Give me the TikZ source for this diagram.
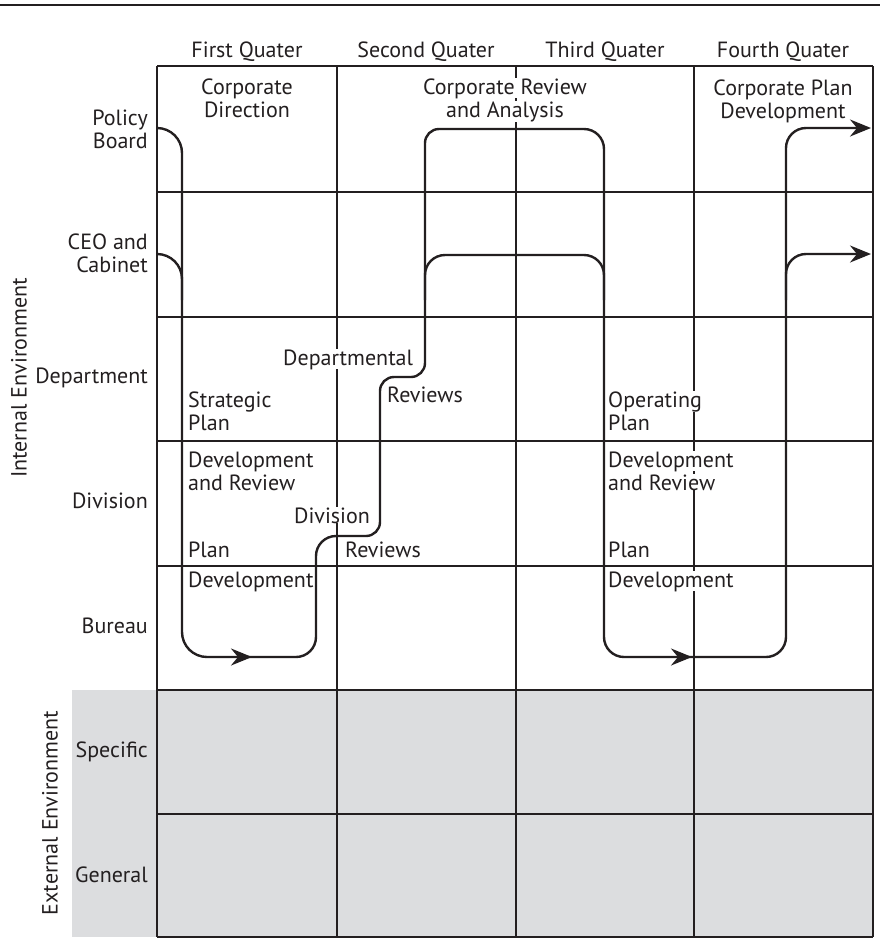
\documentclass[tikz,border=0pt]{standalone}
\usepackage{fontspec}
\setmainfont{PT Sans}
\usetikzlibrary{arrows.meta}
\definecolor{ink}{HTML}{231F20}
\definecolor{bandgray}{HTML}{DCDDDF}
\tikzset{
  txt/.style={font=\fontsize{22}{24}\selectfont, text=ink, inner sep=0pt},
  lane/.style={txt, anchor=base east},
  head/.style={txt, anchor=base},
  cell/.style={txt, anchor=base west, fill=white},
  ctr/.style={txt, anchor=base, fill=white},
  gridline/.style={draw=ink, line width=1.3pt},
  flow/.style={draw=ink, line width=2.4pt},
  tip/.style={-{Stealth[length=21pt,width=17pt,inset=7pt]}}
}
\begin{document}
\begin{tikzpicture}[x=1pt,y=-1pt]
\useasboundingbox (0,0) rectangle (880,938);

% top rule
\draw[ink, line width=2.7pt] (0,5) -- (880,5);

% shaded external environment band
\fill[bandgray] (72,690) rectangle (873,937);

% grid
\foreach \yy in {66,192,317,441,566,690,814,937}
  \draw[gridline] (157,\yy) -- (873,\yy);
\foreach \xx in {157,337,516,694,873}
  \draw[gridline] (\xx,66) -- (\xx,937);

% quarter headings
\node[head] (q1) at (247,57) {First Quater};
\node[head] (q2) at (426,57) {Second Quater};
\node[head] (q3) at (605,57) {Third Quater};
\node[head] (q4) at (783,57) {Fourth Quater};

% lane labels
\node[lane] (pb1) at (148,125) {Policy};
\node[lane] (pb2) at (148,148) {Board};
\node[lane] (ceo1) at (148,249) {CEO and};
\node[lane] (ceo2) at (148,272) {Cabinet};
\node[lane] (dep) at (148,383) {Department};
\node[lane] (div) at (148,508) {Division};
\node[lane] (bur) at (148,633) {Bureau};
\node[lane] (spec) at (148,757) {Specific};
\node[lane] (gen) at (148,882) {General};

\node[txt, rotate=90] (intenv) at (19,378) {Internal Environment};
\node[txt, rotate=90] (extenv) at (50,813) {External Environment};

% activity captions
\node[ctr] (cd1) at (247,94) {Corporate};
\node[ctr] (cd2) at (247,117) {Direction};
\node[ctr] (cr1) at (505,94) {Corporate Review};
\node[ctr] (cr2) at (505,117) {and Analysis};
\node[ctr] (cp1) at (783,95) {Corporate Plan};
\node[ctr] (cp2) at (783,118) {Development};

\node[cell] (sp1) at (188,407) {Strategic};
\node[cell] (sp2) at (188,430) {Plan};
\node[cell] (sp3) at (188,467) {Development};
\node[cell] (sp4) at (188,490) {and Review};
\node[cell] (pd1) at (188,557) {Plan};
\node[cell] (pd2) at (188,587) {Development};

\node[cell] (dr1) at (283,365) {Departmental};
\node[cell] (dr2) at (387,402) {Reviews};
\node[cell] (vr1) at (294,523) {Division};
\node[cell] (vr2) at (345,557) {Reviews};

\node[cell] (op1) at (608,407) {Operating};
\node[cell] (op2) at (608,430) {Plan};
\node[cell] (op3) at (608,467) {Development};
\node[cell] (op4) at (608,490) {and Review};
\node[cell] (pd3) at (608,557) {Plan};
\node[cell] (pd4) at (608,587) {Development};

% main planning cycle
\draw[flow, tip] (157,128) [rounded corners=25pt] -- (182,128) -- (182,657)
  [rounded corners=20pt] -- (316,657) -- (316,536)
  [rounded corners=14pt] -- (380,536) -- (380,377) -- (425,377) -- (425,129)
  [rounded corners=20pt] -- (604,129) -- (604,657) -- (786,657) -- (786,128) -- (871,128);

% CEO and Cabinet branches
\draw[flow, rounded corners=25pt] (157,254) -- (182,254) -- (182,300);
\draw[flow, rounded corners=20pt] (425,300) -- (425,255) -- (604,255) -- (604,300);
\draw[flow, tip, rounded corners=20pt] (786,300) -- (786,254) -- (871,254);

% direction marks on the bottom runs
\draw[flow, tip] (228,657) -- (252,657);
\draw[flow, tip] (668,657) -- (692,657);
\end{tikzpicture}
\end{document}
